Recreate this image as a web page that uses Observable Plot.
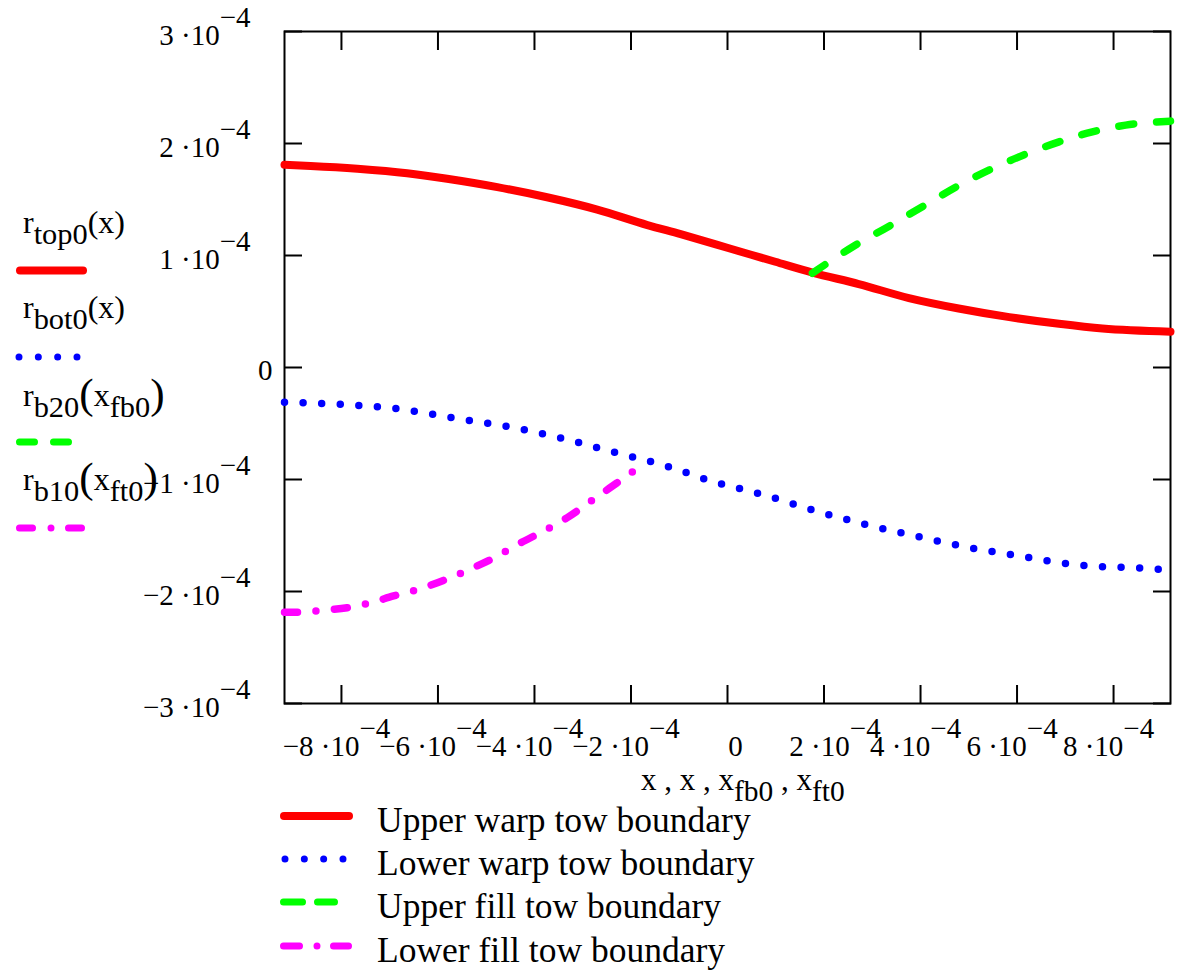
<!DOCTYPE html>
<html><head><meta charset="utf-8">
<script src="https://cdn.jsdelivr.net/npm/d3@7"></script>
<script src="https://cdn.jsdelivr.net/npm/@observablehq/plot@0.6"></script>
<style>
body{margin:0;background:#fff;}
#wrap{position:relative;width:1177px;height:970px;font-family:"Liberation Serif","Times New Roman",serif;}
#wrap svg{position:absolute;left:0;top:0;}
</style></head><body><div id="wrap"></div>
<script>
// ---- ticks ----
const xTicks = [-8e-4, -6e-4, -4e-4, -2e-4, 0, 2e-4, 4e-4, 6e-4, 8e-4];
const xTickLabels = ["−8 ·10^−4", "−6 ·10^−4", "−4 ·10^−4", "−2 ·10^−4", "0", "2 ·10^−4", "4 ·10^−4", "6 ·10^−4", "8 ·10^−4"];
const yTicks = [-3e-4, -2e-4, -1e-4, 0, 1e-4, 2e-4, 3e-4];
const yTickLabels = ["−3 ·10^−4", "−2 ·10^−4", "−1 ·10^−4", "0", "1 ·10^−4", "2 ·10^−4", "3 ·10^−4"];
const xDomain = [-9.18e-4, 9.18e-4];
const yDomain = [-3e-4, 3e-4];

// ---- series ----
const topX = [-9.18e-4, -8.64e-4, -7.67e-4, -6.64e-4, -5.81e-4, -4.77e-4, -3.74e-4, -2.70e-4, -1.66e-4, -0.97e-4, 0.03e-4, 0.99e-4, 1.76e-4, 2.72e-4, 3.76e-4, 4.79e-4, 5.84e-4, 6.87e-4, 7.77e-4, 9.18e-4];
const topY = [1.81e-4, 1.80e-4, 1.775e-4, 1.735e-4, 1.685e-4, 1.61e-4, 1.52e-4, 1.41e-4, 1.272e-4, 1.19e-4, 1.065e-4, 0.944e-4, 0.848e-4, 0.745e-4, 0.62e-4, 0.527e-4, 0.45e-4, 0.39e-4, 0.348e-4, 0.32e-4];

const botX = [-9.18e-4, -7.96e-4, -6.81e-4, -5.64e-4, -4.48e-4, -3.41e-4, -2.38e-4, -1.30e-4, -0.33e-4, 0.75e-4, 1.82e-4, 2.86e-4, 3.88e-4, 4.96e-4, 6.08e-4, 7.28e-4, 8.50e-4, 9.18e-4];
const botY = [-0.31e-4, -0.33e-4, -0.37e-4, -0.453e-4, -0.533e-4, -0.634e-4, -0.753e-4, -0.875e-4, -1.015e-4, -1.137e-4, -1.279e-4, -1.402e-4, -1.503e-4, -1.604e-4, -1.685e-4, -1.765e-4, -1.79e-4, -1.81e-4];

const fbX = [1.76e-4, 2.58e-4, 3.34e-4, 4.10e-4, 4.79e-4, 5.49e-4, 6.18e-4, 6.87e-4, 7.56e-4, 8.25e-4, 9.18e-4];
const fbY = [0.842e-4, 1.074e-4, 1.26e-4, 1.451e-4, 1.625e-4, 1.777e-4, 1.905e-4, 2.015e-4, 2.104e-4, 2.164e-4, 2.20e-4];

const ftX = [-9.18e-4, -8.85e-4, -8.46e-4, -7.88e-4, -7.43e-4, -6.92e-4, -6.40e-4, -5.88e-4, -5.36e-4, -4.84e-4, -4.35e-4, -3.81e-4, -3.32e-4, -2.80e-4, -2.29e-4, -1.84e-4, -1.66e-4];
const ftY = [-2.185e-4, -2.185e-4, -2.17e-4, -2.145e-4, -2.105e-4, -2.04e-4, -1.98e-4, -1.90e-4, -1.805e-4, -1.70e-4, -1.58e-4, -1.46e-4, -1.34e-4, -1.185e-4, -1.03e-4, -0.893e-4, -0.839e-4];

const seriesNames = ["Upper warp tow boundary", "Lower warp tow boundary", "Upper fill tow boundary", "Lower fill tow boundary"];

const zip = (xs, ys) => xs.map((x, i) => ({x, y: ys[i]}));
const topData = zip(topX, topY), botData = zip(botX, botY), fbData = zip(fbX, fbY), ftData = zip(ftX, ftY);

const xt = xTicks.map((v, i) => ({v, label: xTickLabels[i]}));
const yt = yTicks.map((v, i) => ({v, label: yTickLabels[i]}));

const tickStyle = {tickSize: -18, strokeWidth: 2, fill: "none", label: null, stroke: "black"};
const fs = 29;

const chart = Plot.plot({
  width: 1177, height: 815,
  marginLeft: 284, marginRight: 7, marginTop: 31, marginBottom: 112,
  x: {domain: xDomain},
  y: {domain: yDomain},
  style: {fontFamily: "'Liberation Serif', 'Times New Roman', serif", fontSize: fs + "px", color: "black", background: "white"},
  marks: [
    Plot.axisX(xTicks, {anchor: "bottom", ...tickStyle}),
    Plot.axisX(xTicks, {anchor: "top", ...tickStyle}),
    Plot.axisY(yTicks, {anchor: "left", ...tickStyle}),
    Plot.axisY(yTicks, {anchor: "right", ...tickStyle}),
    Plot.frame({stroke: "black", strokeWidth: 2}),
    Plot.line(topData, {x: "x", y: "y", curve: "monotone-x", stroke: "#ff0000", strokeWidth: 8}),
    Plot.line(botData, {x: "x", y: "y", curve: "monotone-x", stroke: "#0000ff", strokeWidth: 7.5, strokeLinecap: "round", strokeDasharray: "0 18.6"}),
    Plot.line(fbData, {x: "x", y: "y", curve: "monotone-x", stroke: "#00ff00", strokeWidth: 7.5, strokeLinecap: "round", strokeDasharray: "15 23"}),
    Plot.line(ftData, {x: "x", y: "y", curve: "monotone-x", stroke: "#ff00ff", strokeWidth: 7.5, strokeLinecap: "round", strokeDasharray: "13 18.5 0 18.5"}),
    // x tick labels
    Plot.text(xt, {filter: d => d.v !== 0 && d.v !== 2e-4, x: "v", text: "label", frameAnchor: "bottom", lineAnchor: "bottom", dy: 52, dx: -5, fontSize: fs}),
    Plot.text(xt, {filter: d => d.v === 0, x: "v", text: "label", frameAnchor: "bottom", lineAnchor: "bottom", dy: 52, dx: 8, fontSize: fs}),
    Plot.text(xt, {filter: d => d.v === 2e-4, x: "v", text: "label", frameAnchor: "bottom", lineAnchor: "bottom", dy: 52, dx: 11, fontSize: fs}),
    // y tick labels
    Plot.text(yt, {filter: d => d.v !== 0, y: "v", text: "label", frameAnchor: "left", lineAnchor: "bottom", textAnchor: "end", dx: -34, dy: 13, fontSize: fs}),
    Plot.text(yt, {filter: d => d.v === 0, y: "v", text: "label", frameAnchor: "left", lineAnchor: "bottom", textAnchor: "end", dx: -12, dy: 12, fontSize: fs})
  ]
});

// superscripts in tick labels
d3.select(chart).selectAll("text").each(function() {
  const t = this.textContent;
  if (t.includes("^")) {
    const [a, b] = t.split("^");
    const s = d3.select(this);
    s.text(null);
    s.append("tspan").text(a);
    s.append("tspan").attr("dy", "-0.62em").text(b);
  }
});

const wrap = document.getElementById("wrap");
wrap.appendChild(chart);

// ---- overlay: legends and axis title ----
const ov = d3.select(wrap).append("svg").attr("width", 1177).attr("height", 970)
  .style("font-family", "'Liberation Serif', 'Times New Roman', serif");

function richText(x, y, parts, size) {
  const t = ov.append("text").attr("x", x).attr("y", y).attr("font-size", size).attr("fill", "black");
  let cur = 0;
  parts.forEach(p => {
    const target = p.sub ? 11 : (p.big ? 2 : 0);
    const sp = t.append("tspan").attr("dy", target - cur).text(p.t);
    if (p.sub) sp.attr("font-size", size * 0.95);
    if (p.big) sp.attr("font-size", size * 1.35);
    cur = target;
  });
  return t;
}

// left legend (Mathcad trace names)
const ls = 32;
richText(23, 233, [{t: "r"}, {t: "top0", sub: true}, {t: "(x)"}], ls);
richText(23, 318, [{t: "r"}, {t: "bot0", sub: true}, {t: "(x)"}], ls);
richText(23, 406, [{t: "r"}, {t: "b20", sub: true}, {t: "(", big: true}, {t: "x"}, {t: "fb0", sub: true}, {t: ")", big: true}], ls);
richText(23, 490, [{t: "r"}, {t: "b10", sub: true}, {t: "(", big: true}, {t: "x"}, {t: "ft0", sub: true}, {t: ")", big: true}], ls);

const styles = [
  {stroke: "#ff0000", w: 8, dash: null, cap: "round"},
  {stroke: "#0000ff", w: 7, dash: "0 19.33", cap: "round"},
  {stroke: "#00ff00", w: 7, dash: "15 19 15 1000", cap: "round"},
  {stroke: "#ff00ff", w: 7, dash: "13 18.5 0 17.5 13 1000", cap: "round"}
];
function sample(x1, x2, y, s, dash) {
  const l = ov.append("line").attr("x1", x1).attr("x2", x2).attr("y1", y).attr("y2", y)
    .attr("stroke", s.stroke).attr("stroke-width", s.w).attr("stroke-linecap", s.cap);
  if (dash) l.attr("stroke-dasharray", dash);
}
sample(20, 83, 270.5, styles[0], null);
sample(19, 77.1, 357, styles[1], styles[1].dash);
sample(19.5, 68.5, 442, styles[2], styles[2].dash);
sample(19.5, 81.5, 528, styles[3], styles[3].dash);

// axis title
richText(641, 790, [{t: "x , x , x"}, {t: "fb0", sub: true}, {t: " , x"}, {t: "ft0", sub: true}], 31);

// bottom legend
const legY = [816, 859, 902, 946];
sample(284, 349, legY[0], styles[0], null);
sample(285, 343.1, legY[1], styles[1], "0 19.33");
sample(283.5, 334.5, legY[2], styles[2], "19 15 17 1000");
sample(283.5, 348.5, legY[3], styles[3], "16 17.5 0 16.5 15 1000");
seriesNames.forEach((n, i) => {
  ov.append("text").attr("x", 377).attr("y", legY[i] + 16).attr("font-size", 35.5).attr("fill", "black").text(n);
});
</script></body></html>
